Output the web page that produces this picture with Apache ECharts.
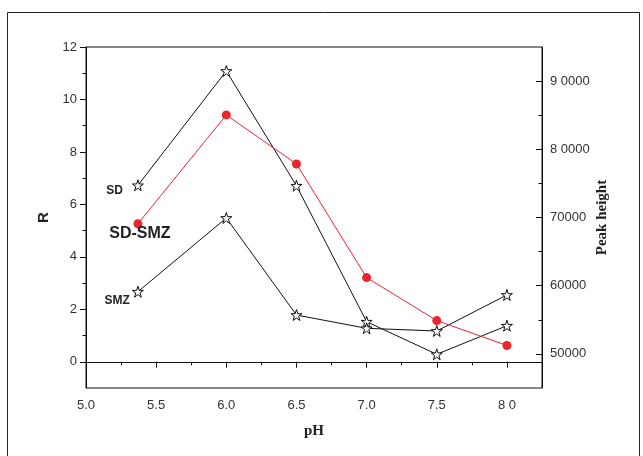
<!DOCTYPE html>
<html>
<head>
<meta charset="utf-8">
<script src="https://cdn.jsdelivr.net/npm/echarts@6/dist/echarts.min.js"></script>
<style>html,body{margin:0;padding:0;background:#fff}#c{width:643px;height:456px}</style>
</head>
<body>
<div id="c"></div>
<script>
// pH values
const pH = [5.37, 6.0, 6.5, 7.0, 7.5, 8.0];
// R for SD-SMZ (left axis)
const rSDSMZ = [5.26, 9.41, 7.54, 3.21, 1.57, 0.62];
// Peak heights (right axis)
const peakSD = [74720, 91480, 74660, 54720, 49940, 54130];
const peakSMZ = [59120, 69930, 55700, 53750, 53360, 58640];
// tick labels
const xTicks = [5.0, 5.5, 6.0, 6.5, 7.0, 7.5, 8.0];
const xMinor = [5.25, 5.75, 6.25, 6.75, 7.25, 7.75];
const yTicks = [0, 2, 4, 6, 8, 10, 12];
const yMinor = [1, 3, 5, 7, 9, 11];
const y2Ticks = [50000, 60000, 70000, 80000, 90000];
const y2Minor = [55000, 65000, 75000, 85000];
const y2Text = {50000: '50000', 60000: '60000', 70000: '70000', 80000: '8 0000', 90000: '9 0000'};

const star = 'path://M50,2 L61.5,37 L98,37 L68.5,58.5 L79.5,94 L50,72 L20.5,94 L31.5,58.5 L2,37 L38.5,37 Z';
const tickLbl = {color: '#333', fontSize: 13, fontFamily: 'Liberation Sans, Arial, sans-serif'};

const chart = echarts.init(document.getElementById('c'), null, {renderer: 'canvas'});
const zip = (a, b) => a.map((v, i) => [v, b[i]]);

function withLabel(data, text, lbl) {
  return data.map((d, i) => i === 0 ? {value: d, label: Object.assign({show: true, formatter: text, color: '#222', fontWeight: 'bold', fontFamily: 'Liberation Sans, Arial, sans-serif'}, lbl)} : d);
}

chart.setOption({
  animation: false,
  backgroundColor: '#fff',
  graphic: [{type: 'rect', shape: {x: 7.5, y: 12.5, width: 632, height: 470}, style: {fill: 'none', stroke: '#222', lineWidth: 1}, silent: true, z: -10}],
  grid: {left: 86, right: 101, top: 47, bottom: 68, show: true, borderColor: '#111', borderWidth: 1, backgroundColor: 'transparent'},
  xAxis: [{
    type: 'value', min: 5, max: 8.25,
    name: 'pH', nameLocation: 'middle', nameGap: 36,
    nameTextStyle: {fontFamily: 'Liberation Serif, Times New Roman, serif', fontWeight: 'bold', fontSize: 15, color: '#222'},
    axisLine: {lineStyle: {color: '#111', width: 1}},
    axisTick: {show: true, inside: false, length: 6, customValues: xTicks, lineStyle: {color: '#111'}},
    axisLabel: Object.assign({customValues: xTicks, margin: 11, formatter: v => Math.abs(v - 8) < 1e-9 ? '8 0' : v.toFixed(1)}, tickLbl),
    splitLine: {show: false}
  }, {
    type: 'value', min: 5, max: 8.25, position: 'bottom',
    axisLine: {show: false}, axisLabel: {show: false}, splitLine: {show: false},
    axisTick: {show: true, inside: false, length: 3.5, customValues: xMinor, lineStyle: {color: '#111'}}
  }],
  yAxis: [{
    type: 'value', min: -1, max: 12, position: 'left',
    name: 'R', nameLocation: 'middle', nameGap: 34, nameRotate: 90,
    nameTextStyle: {fontFamily: 'Liberation Sans, Arial, sans-serif', fontWeight: 'bold', fontSize: 15, color: '#222'},
    axisLine: {show: true, lineStyle: {color: '#111', width: 1}},
    axisTick: {show: true, inside: false, length: 6, customValues: yTicks, lineStyle: {color: '#111'}},
    axisLabel: Object.assign({customValues: yTicks, margin: 9}, tickLbl),
    splitLine: {show: false}
  }, {
    type: 'value', min: 45000, max: 95000, position: 'right',
    name: 'Peak height', nameLocation: 'middle', nameGap: 53, nameRotate: 90, nameMoveOverlap: false,
    nameTextStyle: {fontFamily: 'Liberation Serif, Times New Roman, serif', fontWeight: 'bold', fontSize: 15, color: '#222'},
    axisLine: {show: true, lineStyle: {color: '#111', width: 1}},
    axisTick: {show: true, inside: true, length: 6, customValues: y2Ticks, lineStyle: {color: '#111'}},
    axisLabel: Object.assign({customValues: y2Ticks, margin: 8, formatter: v => y2Text[v] || ''}, tickLbl),
    splitLine: {show: false}
  }, {
    type: 'value', min: -1, max: 12, position: 'left',
    axisLine: {show: false}, axisLabel: {show: false}, splitLine: {show: false},
    axisTick: {show: true, inside: false, length: 3.5, customValues: yMinor, lineStyle: {color: '#111'}}
  }, {
    type: 'value', min: 45000, max: 95000, position: 'right',
    axisLine: {show: false}, axisLabel: {show: false}, splitLine: {show: false},
    axisTick: {show: true, inside: true, length: 3.5, customValues: y2Minor, lineStyle: {color: '#111'}}
  }],
  series: [{
    name: 'SD', type: 'line', yAxisIndex: 1,
    data: withLabel(zip(pH, peakSD), 'SD', {position: 'left', distance: 9, offset: [0, 5], fontSize: 12}),
    symbol: star, symbolSize: 11, showAllSymbol: true,
    lineStyle: {color: '#111', width: 1},
    itemStyle: {color: '#fff', borderColor: '#111', borderWidth: 1}, z: 3
  }, {
    name: 'SMZ', type: 'line', yAxisIndex: 1,
    data: withLabel(zip(pH, peakSMZ), 'SMZ', {position: 'left', distance: 2, offset: [0, 9], fontSize: 12}),
    symbol: star, symbolSize: 11, showAllSymbol: true,
    lineStyle: {color: '#111', width: 1},
    itemStyle: {color: '#fff', borderColor: '#111', borderWidth: 1}, z: 3
  }, {
    name: 'SD-SMZ', type: 'line', yAxisIndex: 0,
    data: withLabel(zip(pH, rSDSMZ), 'SD-SMZ', {position: 'inside', offset: [2, 10], fontSize: 16}),
    symbol: 'circle', symbolSize: 9, showAllSymbol: true,
    lineStyle: {color: '#e8262b', width: 1},
    itemStyle: {color: '#e8262b', borderWidth: 0}, z: 4
  }]
});
</script>
</body>
</html>
